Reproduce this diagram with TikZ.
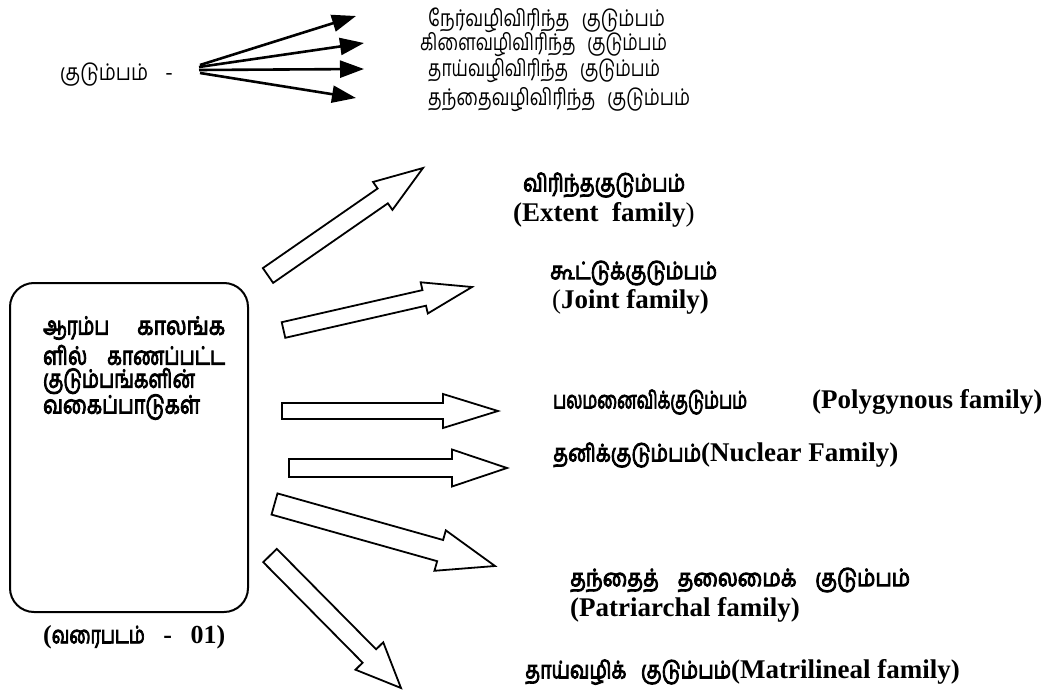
\documentclass[tikz,border=0pt]{standalone}
\usepackage{fontspec}
\usepackage{graphicx}
\usetikzlibrary{calc,arrows.meta}
\newfontfamily\ta[Script=Tamil]{Hind Madurai}
\newfontfamily\tab[Script=Tamil,FakeBold=4]{Hind Madurai}
\newfontfamily\en{Liberation Serif}
\newsavebox\fitbox
\newcommand\fitto[2]{\sbox\fitbox{#2}\scalebox{\fpeval{#1/\wd\fitbox}}[1]{\usebox\fitbox}}
\tikzset{
  lbl/.style={inner sep=0pt, anchor=west},
  blk/.style={draw=black, line width=1.8pt, line join=miter, fill=white},
  fanarrow/.style={line width=2.6pt, -{Triangle[length=24pt,width=17pt]}},
  tsmall/.style={font=\ta\fontsize{23}{25}\selectfont},
  ebold/.style={font=\en\bfseries\fontsize{27}{30}\selectfont},
}
\newcommand\TB{\tab\fontsize{24}{26}\selectfont}
\newcommand\TBB{\tab\fontsize{25}{26}\selectfont}
\newcommand\EB{\en\bfseries\fontsize{27}{30}\selectfont}
\newcommand\blockarr[5]{%
  \coordinate (h#1) at ($(#2)!#5!(#1)$);
  \draw[blk] ($(#1)!#3!90:(#2)$) -- ($(h#1)!#3!90:(#2)$) -- ($(h#1)!#4!90:(#2)$) -- (#2)
    -- ($(h#1)!#4!-90:(#2)$) -- ($(h#1)!#3!-90:(#2)$) -- ($(#1)!#3!-90:(#2)$) -- cycle;
}
\begin{document}
\begin{tikzpicture}[x=1pt,y=-1pt]
\useasboundingbox[fill=white] (0,0) rectangle (1043,690);
% ---- top fan ----
\node[lbl, tsmall] (kud) at (60,75) {\fitto{88}{குடும்பம்}\hspace{17pt}-};
\coordinate (f1) at (200,65);
\coordinate (f2) at (199,67);
\coordinate (f3) at (199,70);
\coordinate (f4) at (200,73);
\node[lbl, tsmall] (t1) at (428,20) {\fitto{237}{நேர்வழிவிரிந்த\hspace{10pt} குடும்பம்}};
\node[lbl, tsmall] (t2) at (420,45) {\fitto{247}{கிளைவழிவிரிந்த\hspace{10pt} குடும்பம்}};
\node[lbl, tsmall] (t3) at (428,71) {\fitto{232}{தாய்வழிவிரிந்த\hspace{10pt} குடும்பம்}};
\node[lbl, tsmall] (t4) at (428,100) {\fitto{262}{தந்தைவழிவிரிந்த\hspace{10pt} குடும்பம்}};
\coordinate (a1) at (356,16);
\coordinate (a2) at (364,43);
\coordinate (a3) at (364,69);
\coordinate (a4) at (356,98);
\draw[fanarrow] (f1) -- (a1);
\draw[fanarrow] (f2) -- (a2);
\draw[fanarrow] (f3) -- (a3);
\draw[fanarrow] (f4) -- (a4);
% ---- box ----
\node[draw, line width=2pt, rounded corners=24pt, minimum width=238pt, minimum height=329pt, inner sep=0pt] (box) at (129,447.5) {};
\node[lbl] (b1) at (43,328) {\makebox[182pt]{\fitto{66}{\TBB ஆரம்ப}\hfill\fitto{88}{\TBB காலங்க}}};
\node[lbl] (b2) at (43,355) {\makebox[182pt]{\fitto{44}{\TBB ளில்}\hfill\fitto{118}{\TBB காணப்பட்ட}}};
\node[lbl] (b3) at (43,381) {\fitto{152}{\TBB குடும்பங்களின்}};
\node[lbl] (b4) at (43,407) {\fitto{157}{\TBB வகைப்பாடுகள்}};
\node[lbl] (cap) at (43,637) {\makebox[182pt]{{\en\bfseries\fontsize{26}{28}\selectfont(}\fitto{93}{\TB வரைபடம்}\hfill{\en\bfseries\fontsize{26}{28}\selectfont -}\hfill{\en\bfseries\fontsize{26}{28}\selectfont 01)}}};
% ---- labels ----
\node[lbl] (l1a) at (523,185) {\fitto{162}{\TB விரிந்தகுடும்பம்}};
\node[lbl, ebold] (l1b) at (513,215) {(Extent\ \ family{\mdseries)}};
\node[lbl] (l2a) at (550,273) {\fitto{167}{\TB கூட்டுக்குடும்பம்}};
\node[lbl, ebold] (l2b) at (552,302) {{\mdseries(}Joint family)};
\node[lbl] (l3a) at (553,402) {\fitto{194}{\TB பலமனைவிக்குடும்பம்}};
\node[lbl, ebold] (l3b) at (812,402) {(Polygynous family)};
\node[lbl] (l4) at (553,455) {\fitto{148}{\TB தனிக்குடும்பம்}{\EB(Nuclear Family)}};
\node[lbl] (l5a) at (570,580) {\fitto{340}{\TB தந்தைத்\hspace{16pt} தலைமைக்\hspace{16pt} குடும்பம்}};
\node[lbl, ebold] (l5b) at (570,610) {(Patriarchal family)};
\node[lbl] (l6) at (525,672) {\fitto{206}{\TB தாய்வழிக்\hspace{12pt} குடும்பம்}{\EB(Matrilineal family)}};
% ---- block arrows ----
\coordinate (s1) at (268,275.5); \coordinate (e1) at (423,168);
\coordinate (s2) at (283.5,330); \coordinate (e2) at (472,287);
\coordinate (s3) at (282,411);   \coordinate (e3) at (498,411);
\coordinate (s4) at (289,468);   \coordinate (e4) at (507,468);
\coordinate (s5) at (274.5,504); \coordinate (e5) at (495,566);
\coordinate (s6) at (270,555.5); \coordinate (e6) at (401,688);
\blockarr{s1}{e1}{9pt}{17pt}{49pt}
\blockarr{s2}{e2}{8pt}{16pt}{49pt}
\blockarr{s3}{e3}{8pt}{17pt}{55pt}
\blockarr{s4}{e4}{9pt}{18.5pt}{55pt}
\blockarr{s5}{e5}{11pt}{21pt}{57pt}
\blockarr{s6}{e6}{9.5pt}{19.5pt}{45pt}
\end{tikzpicture}
\end{document}
